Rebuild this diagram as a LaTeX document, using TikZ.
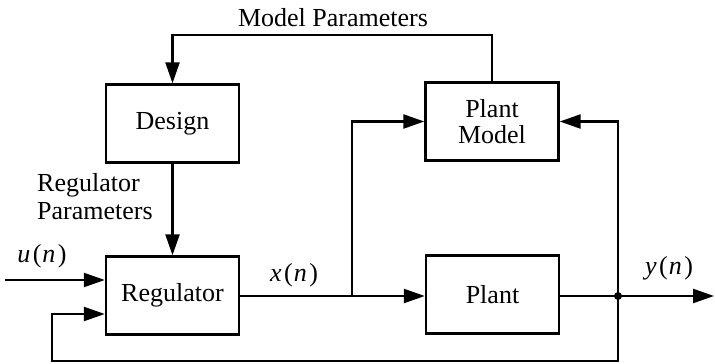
\documentclass[tikz,border=0pt]{standalone}
\usepackage{fontspec}
\setmainfont{Liberation Serif}
\usetikzlibrary{arrows.meta,calc}
\newcommand{\sig}[1]{\textit{#1}\hspace{2.5pt}(\hspace{1pt}\textit{n}\hspace{2.5pt})}
\begin{document}
\begin{tikzpicture}[x=1pt,y=-1pt,
  every node/.style={font=\fontsize{26}{30}\selectfont},
  blk/.style={draw,line width=2.4pt,minimum width=133pt,minimum height=78pt,inner sep=0pt,align=center},
  conn/.style={line width=2.4pt},
  arr/.style={conn,-{Triangle[length=21pt,width=14pt]}},
  lbl/.style={inner sep=0pt}]
\useasboundingbox (0,0) rectangle (715,364);
\node[blk] (design) at (172.5,123.5) {Design};
\node[blk] (reg) at (172.5,295.5) {Regulator};
\node[blk] (pmodel) at (492,121.5) {Plant\\[-4pt]Model};
\node[blk] (plant) at (492.5,294.5) {Plant};
\coordinate (uin) at (5,280);
\coordinate (branch) at (352,296);
\coordinate (junc) at (618,296);
\coordinate (yout) at (714,296);
\coordinate (top) at (0,35);
\coordinate (bot) at (0,361);
\coordinate (fbx) at (52,0);
% model parameters loop
\draw[arr] (pmodel.north) -- (pmodel.north |- top) -- (design.north |- top) -- (design.north);
\node[lbl] (mp) at (333,18) {Model Parameters};
% design to regulator
\draw[arr] (design.south) -- (reg.north);
\node[lbl,align=left,anchor=west] (rp) at (37,197) {Regulator\\[-2pt]Parameters};
% input
\draw[arr] (uin) -- (uin -| reg.west);
\node[lbl] (ulbl) at (42,256) {\sig{u}};
% regulator to plant
\draw[arr] (reg.east |- branch) -- (branch) -- (plant.west |- branch);
\draw[arr] (branch) -- (branch |- pmodel.west) -- (pmodel.west);
\node[lbl] (xlbl) at (294,275) {\sig{x}};
% plant output
\draw[conn] (plant.east |- junc) -- (junc);
\draw[arr] (junc) -- (yout);
\fill (junc) circle (4pt);
\node[lbl] (ylbl) at (669,268) {\sig{y}};
\draw[arr] (junc) -- (junc |- pmodel.east) -- (pmodel.east);
% feedback
\draw[arr] (junc) -- (junc |- bot) -- (fbx |- bot) -- (fbx |- 0,314) -- (reg.west |- 0,314);
\end{tikzpicture}
\end{document}
